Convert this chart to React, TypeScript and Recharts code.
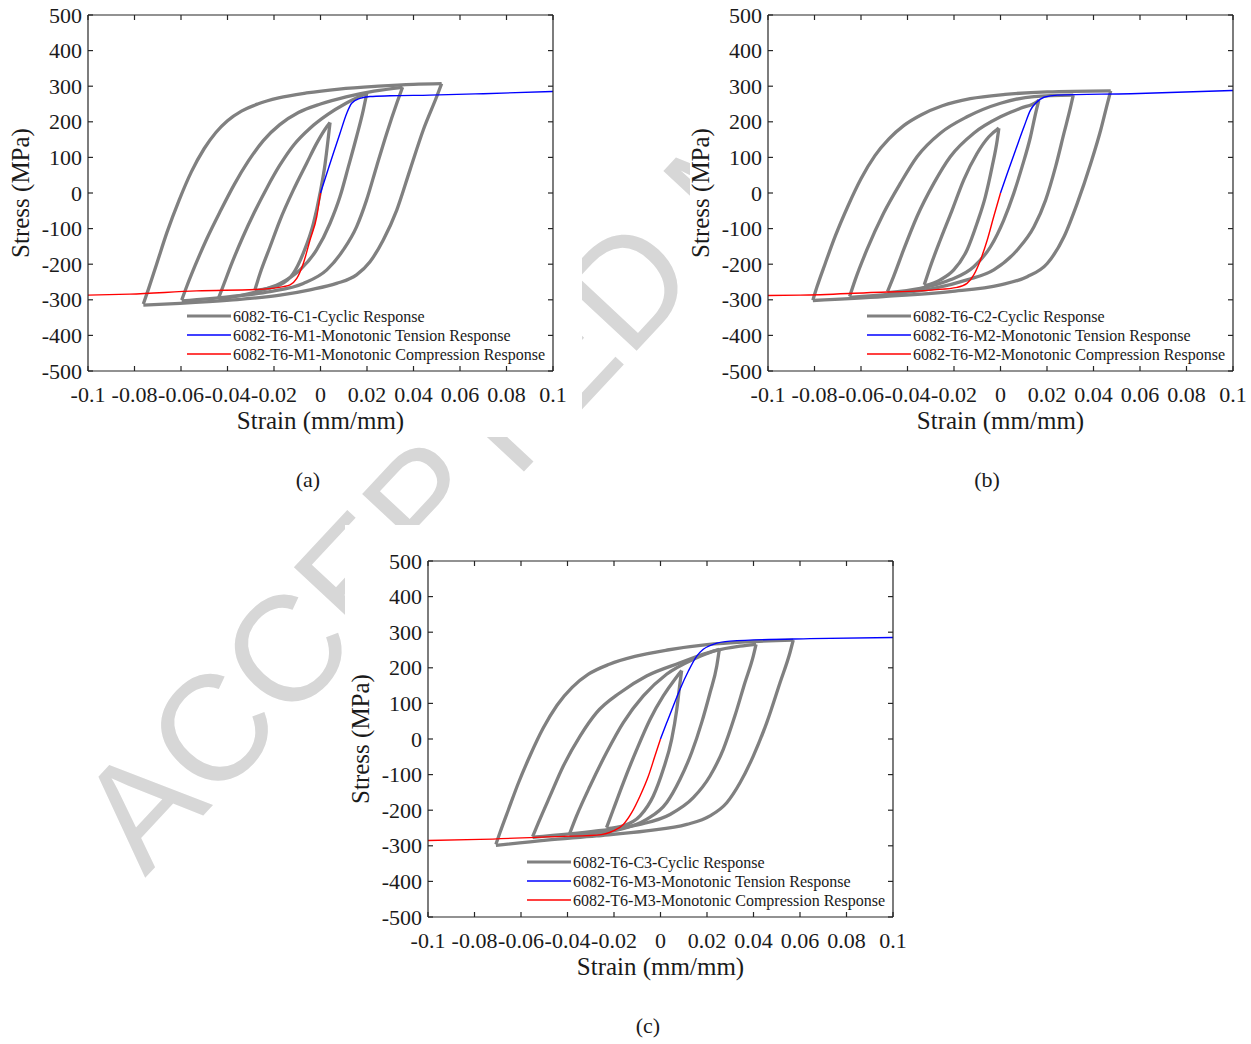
import { LineChart, Line, XAxis, YAxis } from 'recharts'

type Pt = [number, number]

const strainTicks = [-0.1, -0.08, -0.06, -0.04, -0.02, 0, 0.02, 0.04, 0.06, 0.08, 0.1]
const stressTicks = [-500, -400, -300, -200, -100, 0, 100, 200, 300, 400, 500]

// ---- (a) 6082-T6-C1 cyclic, M1 monotonic ----
const c1Loop1Up: Pt[] = [[-0.0282, -272], [-0.026, -226], [-0.0217, -151], [-0.0174, -76], [-0.0117, 8], [-0.006, 83], [-0.0016, 140], [0.0027, 186], [0.0041, 198]]
const c1Loop1Down: Pt[] = [[-0.0282, -274], [-0.0174, -258], [-0.0117, -226], [-0.0074, -169], [-0.003, -85], [-0.0002, -1], [0.002, 83], [0.0034, 158], [0.0041, 198]]
const c1Loop2Up: Pt[] = [[-0.0439, -296], [-0.0415, -255], [-0.038, -195], [-0.0335, -125], [-0.0285, -55], [-0.023, 15], [-0.0175, 78], [-0.0115, 135], [-0.0045, 182], [0.003, 220], [0.011, 252], [0.0199, 280]]
const c1Loop2Down: Pt[] = [[-0.0439, -299], [-0.0274, -277], [-0.0174, -254], [-0.0088, -216], [-0.0017, -160], [0.0041, -85], [0.0084, -10], [0.012, 74], [0.0155, 158], [0.0184, 233], [0.0199, 280]]
const c1Loop3Up: Pt[] = [[-0.0597, -301], [-0.0575, -262], [-0.054, -205], [-0.049, -130], [-0.043, -50], [-0.037, 25], [-0.031, 90], [-0.0245, 148], [-0.0175, 192], [-0.0095, 226], [0, 250], [0.011, 270], [0.023, 286], [0.0353, 297]]
const c1Loop3Down: Pt[] = [[-0.0597, -303], [-0.0389, -291], [-0.0217, -277], [-0.0074, -254], [0.0027, -216], [0.0098, -160], [0.0155, -95], [0.0198, -20], [0.0241, 74], [0.0285, 168], [0.0328, 252], [0.0353, 297]]
const c1Loop4Up: Pt[] = [[-0.0762, -312], [-0.074, -270], [-0.0705, -200], [-0.066, -110], [-0.0608, -20], [-0.0555, 60], [-0.05, 125], [-0.045, 170], [-0.04, 203], [-0.034, 230], [-0.027, 250], [-0.018, 267], [-0.006, 281], [0.008, 292], [0.025, 300], [0.04, 305], [0.0521, 307]]
const c1Loop4Down: Pt[] = [[-0.0762, -315], [-0.0604, -310], [-0.039, -301], [-0.0174, -287], [-0.0045, -272], [0.0069, -254], [0.0155, -230], [0.0213, -193], [0.027, -132], [0.0328, -48], [0.0385, 65], [0.0442, 177], [0.05, 271], [0.0521, 307]]
const m1Tension: Pt[] = [[0, 0], [0.0027, 55], [0.0055, 111], [0.0084, 168], [0.0113, 224], [0.0134, 252], [0.017, 266], [0.0213, 271], [0.03, 273], [0.047, 275], [0.07, 279], [0.1, 285]]
const m1Compression: Pt[] = [[-0.1, -287], [-0.082, -284], [-0.0533, -275], [-0.0246, -270], [-0.016, -263], [-0.0131, -258], [-0.0102, -240], [-0.0074, -198], [-0.0045, -132], [-0.0016, -66], [0, 0]]

// ---- (b) 6082-T6-C2 cyclic, M2 monotonic ----
const c2Loop1Up: Pt[] = [[-0.0328, -258], [-0.0302, -207], [-0.0259, -132], [-0.0208, -48], [-0.0158, 37], [-0.0101, 111], [-0.005, 158], [-0.0014, 179], [-0.0007, 182]]
const c2Loop1Down: Pt[] = [[-0.0328, -261], [-0.0259, -244], [-0.0201, -216], [-0.0144, -160], [-0.0101, -85], [-0.0065, -10], [-0.0036, 74], [-0.0014, 149], [-0.0007, 182]]
const c2Loop2Up: Pt[] = [[-0.0486, -277], [-0.046, -235], [-0.0417, -160], [-0.0359, -66], [-0.0287, 27], [-0.0216, 102], [-0.0115, 168], [0, 214], [0.0086, 238], [0.0158, 257], [0.0165, 261]]
const c2Loop2Down: Pt[] = [[-0.0486, -280], [-0.0345, -268], [-0.0216, -244], [-0.0115, -207], [-0.0043, -151], [0.0014, -76], [0.0057, -1], [0.0093, 74], [0.0129, 158], [0.0151, 224], [0.0165, 261]]
const c2Loop3Up: Pt[] = [[-0.0649, -291], [-0.0625, -244], [-0.0575, -160], [-0.0503, -57], [-0.0431, 27], [-0.0359, 102], [-0.0259, 168], [-0.0144, 214], [0, 252], [0.0144, 271], [0.0313, 275]]
const c2Loop3Down: Pt[] = [[-0.0649, -293], [-0.0474, -284], [-0.0287, -268], [-0.0144, -244], [-0.0029, -216], [0.0072, -160], [0.0144, -95], [0.0194, -20], [0.0237, 74], [0.0273, 168], [0.0302, 243], [0.0313, 275]]
const c2Loop4Up: Pt[] = [[-0.0807, -301], [-0.079, -265], [-0.0755, -200], [-0.071, -120], [-0.0655, -35], [-0.06, 40], [-0.054, 105], [-0.048, 152], [-0.0415, 190], [-0.034, 220], [-0.025, 245], [-0.013, 265], [0.002, 277], [0.02, 284], [0.0474, 287]]
const c2Loop4Down: Pt[] = [[-0.0807, -302], [-0.0503, -291], [-0.0216, -277], [0, -258], [0.0115, -235], [0.0201, -198], [0.0273, -123], [0.033, -29], [0.0388, 83], [0.0431, 177], [0.046, 252], [0.0474, 287]]
const m2Tension: Pt[] = [[0, 0], [0.0029, 55], [0.0065, 121], [0.0101, 186], [0.0129, 233], [0.0151, 252], [0.0187, 269], [0.0244, 275], [0.056, 279], [0.1, 288]]
const m2Compression: Pt[] = [[-0.1, -288], [-0.0862, -287], [-0.0575, -280], [-0.0287, -272], [-0.0187, -265], [-0.0144, -254], [-0.0115, -230], [-0.0086, -188], [-0.0057, -132], [-0.0029, -66], [0, 0]]

// ---- (c) 6082-T6-C3 cyclic, M3 monotonic ----
const c3Loop1Up: Pt[] = [[-0.0232, -249], [-0.0203, -198], [-0.016, -123], [-0.0102, -29], [-0.0045, 55], [0.0012, 121], [0.0062, 168], [0.0091, 192]]
const c3Loop1Down: Pt[] = [[-0.0232, -252], [-0.016, -244], [-0.0088, -216], [-0.0031, -160], [0.0012, -85], [0.0048, -1], [0.007, 83], [0.0084, 158], [0.0091, 192]]
const c3Loop2Up: Pt[] = [[-0.0392, -268], [-0.0361, -216], [-0.0303, -132], [-0.0232, -38], [-0.016, 46], [-0.0074, 121], [0.0026, 182], [0.0141, 224], [0.0213, 243], [0.0253, 252]]
const c3Loop2Down: Pt[] = [[-0.0392, -271], [-0.0174, -254], [-0.006, -226], [0.0026, -179], [0.0084, -113], [0.0134, -38], [0.0177, 46], [0.0213, 130], [0.0242, 205], [0.0253, 252]]
const c3Loop3Up: Pt[] = [[-0.055, -274], [-0.0525, -235], [-0.0475, -160], [-0.0418, -76], [-0.0346, 8], [-0.0275, 74], [-0.0174, 130], [-0.006, 177], [0.0084, 214], [0.0227, 247], [0.0342, 261], [0.0411, 266]]
const c3Loop3Down: Pt[] = [[-0.055, -276], [-0.0275, -258], [-0.0088, -240], [0.0041, -212], [0.0141, -165], [0.0213, -104], [0.027, -29], [0.032, 65], [0.0363, 158], [0.0399, 233], [0.0411, 266]]
const c3Loop4Up: Pt[] = [[-0.0708, -296], [-0.069, -262], [-0.0655, -200], [-0.0612, -125], [-0.056, -45], [-0.0505, 30], [-0.0445, 95], [-0.038, 145], [-0.031, 182], [-0.022, 210], [-0.011, 232], [0.003, 250], [0.02, 265], [0.0371, 273], [0.0571, 278]]
const c3Loop4Down: Pt[] = [[-0.0708, -299], [-0.049, -284], [-0.0275, -272], [-0.006, -258], [0.0113, -240], [0.0213, -216], [0.0285, -179], [0.0342, -123], [0.0399, -48], [0.0457, 46], [0.0514, 158], [0.0557, 243], [0.0571, 278]]
const m3Tension: Pt[] = [[0, 0], [0.0027, 46], [0.0055, 93], [0.0084, 140], [0.012, 191], [0.0156, 233], [0.0184, 252], [0.0227, 266], [0.0299, 275], [0.0643, 282], [0.1, 285]]
const m3Compression: Pt[] = [[-0.1, -285], [-0.0776, -282], [-0.049, -275], [-0.0275, -270], [-0.0203, -258], [-0.016, -240], [-0.0124, -207], [-0.0088, -160], [-0.0052, -104], [-0.0024, -48], [0, 0]]

const legendA = ['6082-T6-C1-Cyclic Response', '6082-T6-M1-Monotonic Tension Response', '6082-T6-M1-Monotonic Compression Response']
const legendB = ['6082-T6-C2-Cyclic Response', '6082-T6-M2-Monotonic Tension Response', '6082-T6-M2-Monotonic Compression Response']
const legendC = ['6082-T6-C3-Cyclic Response', '6082-T6-M3-Monotonic Tension Response', '6082-T6-M3-Monotonic Compression Response']

const SERIF = '"Liberation Serif", "Times New Roman", serif'
const INK = '#262626'
const GRAY = '#808080'
const BLUE = '#0000ff'
const RED = '#ff0000'

const toRows = (pts: Pt[]) => pts.map(([x, y]) => ({ x, y }))

function BottomTick({ x, y, payload }: any) {
  return (
    <g>
      <line x1={x} x2={x} y1={y} y2={y - 5} stroke={INK} strokeWidth={1.2} />
      <text x={x} y={y + 31} textAnchor="middle" fontSize={22} fontFamily={SERIF} fill="#1a1a1a">
        {String(payload.value)}
      </text>
    </g>
  )
}

function TopTick({ x, y }: any) {
  return <line x1={x} x2={x} y1={y} y2={y + 5} stroke={INK} strokeWidth={1.2} />
}

function LeftTick({ x, y, payload }: any) {
  return (
    <g>
      <line x1={x} x2={x + 5} y1={y} y2={y} stroke={INK} strokeWidth={1.2} />
      <text x={x - 6} y={y + 7.5} textAnchor="end" fontSize={22} fontFamily={SERIF} fill="#1a1a1a">
        {String(payload.value)}
      </text>
    </g>
  )
}

function RightTick({ x, y }: any) {
  return <line x1={x} x2={x - 5} y1={y} y2={y} stroke={INK} strokeWidth={1.2} />
}

function HysteresisChart({ left, top, loops, tension, compression }: {
  left: number
  top: number
  loops: Pt[][]
  tension: Pt[]
  compression: Pt[]
}) {
  const axisLine = { stroke: INK, strokeWidth: 1.2 }
  return (
    <div style={{ position: 'absolute', left, top }}>
      {/* axes are 1px thick so the plot box sits at x 88..553, y 15..371 of the chart */}
      <LineChart width={600} height={440} margin={{ top: 14, right: 46, bottom: 68, left: 87 }}>
        <XAxis xAxisId="b" type="number" dataKey="x" domain={[-0.1, 0.1]} ticks={strainTicks} interval={0}
          height={1} tickSize={0} tickMargin={0} tickLine={false} axisLine={axisLine} tick={<BottomTick />} allowDataOverflow />
        <XAxis xAxisId="t" orientation="top" type="number" dataKey="x" domain={[-0.1, 0.1]} ticks={strainTicks} interval={0}
          height={1} tickSize={0} tickMargin={0} tickLine={false} axisLine={axisLine} tick={<TopTick />} allowDataOverflow />
        <YAxis yAxisId="l" type="number" domain={[-500, 500]} ticks={stressTicks} interval={0}
          width={1} tickSize={0} tickMargin={0} tickLine={false} axisLine={axisLine} tick={<LeftTick />} allowDataOverflow />
        <YAxis yAxisId="r" orientation="right" type="number" domain={[-500, 500]} ticks={stressTicks} interval={0}
          width={1} tickSize={0} tickMargin={0} tickLine={false} axisLine={axisLine} tick={<RightTick />} allowDataOverflow />
        {loops.map((branch, i) => (
          <Line key={i} xAxisId="b" yAxisId="l" data={toRows(branch)} dataKey="y" type="monotoneX"
            stroke={GRAY} strokeWidth={3.3} dot={false} activeDot={false} isAnimationActive={false} />
        ))}
        <Line xAxisId="b" yAxisId="l" data={toRows(tension)} dataKey="y" type="monotoneX"
          stroke={BLUE} strokeWidth={1.4} dot={false} activeDot={false} isAnimationActive={false} />
        <Line xAxisId="b" yAxisId="l" data={toRows(compression)} dataKey="y" type="monotoneX"
          stroke={RED} strokeWidth={1.4} dot={false} activeDot={false} isAnimationActive={false} />
      </LineChart>
    </div>
  )
}

// titles, legend and caption for one panel, in page coordinates
function PanelText({ left, top, labels, caption, captionX, captionY }: {
  left: number
  top: number
  labels: string[]
  caption: string
  captionX: number
  captionY: number
}) {
  const rows = [
    { color: GRAY, w: 3.2 },
    { color: BLUE, w: 1.5 },
    { color: RED, w: 1.5 },
  ]
  return (
    <g fontFamily={SERIF} fill="#1a1a1a">
      <text x={left + 320.5} y={top + 429} textAnchor="middle" fontSize={25}>Strain (mm/mm)</text>
      <text transform={`translate(${left + 29},${top + 193}) rotate(-90)`} textAnchor="middle" fontSize={25}>Stress (MPa)</text>
      {labels.map((label, i) => {
        const y = top + 316 + i * 19
        return (
          <g key={label}>
            <line x1={left + 187} x2={left + 231} y1={y} y2={y} stroke={rows[i].color} strokeWidth={rows[i].w} />
            <text x={left + 233} y={y + 5.5} fontSize={16}>{label}</text>
          </g>
        )
      })}
      <text x={captionX} y={captionY} textAnchor="middle" fontSize={22}>{caption}</text>
    </g>
  )
}

export default function App() {
  return (
    <div style={{ position: 'absolute', left: 0, top: 0, width: 1251, height: 1044, background: '#fff', overflow: 'hidden' }}>
      <svg width={1251} height={1044} style={{ position: 'absolute', left: 0, top: 0 }}>
        <text x={145} y={878} transform="rotate(-47 145 878)" fontSize={150} fontFamily='"Liberation Sans", Arial, sans-serif' fill="#d7d7d7">
          ACCEPTED MANUSCRIPT
        </text>
      </svg>
      <div style={{ position: 'absolute', left: 0, top: 0, width: 582, height: 437, background: '#fff' }} />
      <div style={{ position: 'absolute', left: 690, top: 0, width: 561, height: 437, background: '#fff' }} />
      <div style={{ position: 'absolute', left: 345, top: 525, width: 906, height: 519, background: '#fff' }} />

      <HysteresisChart left={0} top={0}
        loops={[c1Loop1Up, c1Loop1Down, c1Loop2Up, c1Loop2Down, c1Loop3Up, c1Loop3Down, c1Loop4Up, c1Loop4Down]}
        tension={m1Tension} compression={m1Compression} />
      <HysteresisChart left={680} top={0}
        loops={[c2Loop1Up, c2Loop1Down, c2Loop2Up, c2Loop2Down, c2Loop3Up, c2Loop3Down, c2Loop4Up, c2Loop4Down]}
        tension={m2Tension} compression={m2Compression} />
      <HysteresisChart left={340} top={546}
        loops={[c3Loop1Up, c3Loop1Down, c3Loop2Up, c3Loop2Down, c3Loop3Up, c3Loop3Down, c3Loop4Up, c3Loop4Down]}
        tension={m3Tension} compression={m3Compression} />

      <svg width={1251} height={1044} style={{ position: 'absolute', left: 0, top: 0, pointerEvents: 'none' }}>
        <PanelText left={0} top={0} labels={legendA} caption="(a)" captionX={308} captionY={487} />
        <PanelText left={680} top={0} labels={legendB} caption="(b)" captionX={987} captionY={487} />
        <PanelText left={340} top={546} labels={legendC} caption="(c)" captionX={648} captionY={1033} />
      </svg>
    </div>
  )
}
